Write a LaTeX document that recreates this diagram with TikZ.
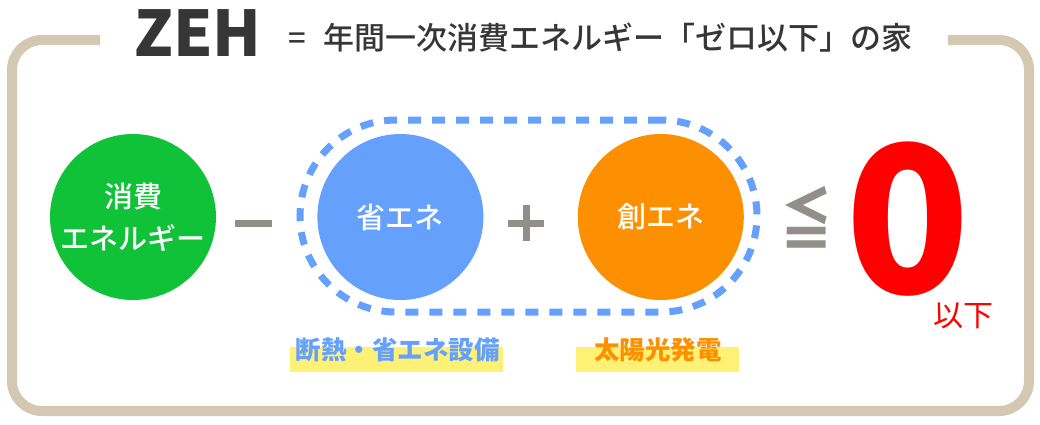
\documentclass[tikz,border=0pt]{standalone}
\usepackage{fontspec}
\setmainfont{Noto Sans CJK JP}
\newfontfamily\jpmedium{Noto Sans CJK JP Medium}
\usetikzlibrary{positioning}

\definecolor{framebeige}{HTML}{D3C8B1}
\definecolor{titlegray}{HTML}{363636}
\definecolor{opgray}{HTML}{928E89}
\definecolor{consumegreen}{HTML}{10C237}
\definecolor{saveblue}{HTML}{64A0FC}
\definecolor{createorange}{HTML}{FD9000}
\definecolor{zerored}{HTML}{FF0000}
\definecolor{markyellow}{HTML}{FFF176}

\begin{document}
\begin{tikzpicture}[x=1pt, y=-1pt,
    circ/.style={circle, minimum size=166pt, inner sep=0pt, text=white, align=center, font=\jpmedium\fontsize{29}{42}\selectfont},
    opbar/.style={fill=opgray, inner sep=0pt},
    marker/.style={fill=markyellow, inner sep=0pt, minimum height=25pt},
    caption/.style={inner sep=0pt, font=\fontsize{25.5}{30}\selectfont\bfseries}]
        \useasboundingbox (0,0) rectangle (1040,424);

        % Draw the frame
        \draw [framebeige, line width=10pt, rounded corners=30pt] (100,40) -- (12,40) -- (12,411) -- (1029,411) -- (1029,40) -- (948,40);

        % Title
        \node (zeh)      [inner sep=0pt, text=titlegray, font=\fontsize{63}{63}\selectfont\bfseries] at (198,33) {ZEH};
        \node (subtitle) [inner sep=0pt, anchor=west, text=titlegray, font=\jpmedium\fontsize{31}{31}\selectfont] at (288,38) {=\hspace{18pt}年間一次消費エネルギー「ゼロ以下」の家};

        % Draw the circles
        \node (consume) [circ, fill=consumegreen] at (133,217) {消費\\エネルギー};
        \node (save)    [circ, fill=saveblue, right=101pt of consume] {省エネ};
        \node (create)  [circ, fill=createorange, right=94pt of save] {創エネ};

        % Dashed group round the two
        \node (group) [draw=saveblue, line width=7pt, dash pattern=on 13pt off 11pt, rounded corners=96pt, minimum width=457pt, minimum height=192pt, inner sep=0pt] at (528.5,216) {};

        % Operators
        \node (minus) [opbar, minimum width=37pt, minimum height=7pt] at (253,223) {};
        \node (plush) [opbar, minimum width=36pt, minimum height=7pt] at (526,223) {};
        \node (plusv) [opbar, minimum width=7pt, minimum height=36pt] at (526,223) {};
        \node (leq)   [inner sep=0pt, text=opgray, xscale=0.77, font=\fontsize{68}{68}\selectfont\bfseries] at (807,217) {≦};

        % Result
        \node (zero)  [inner sep=0pt, text depth=0pt, text=zerored, font=\fontsize{205}{205}\selectfont\bfseries] at (908,218) {0};
        \node (below) [inner sep=0pt, text=zerored, font=\fontsize{30}{30}\selectfont] at (963,316) {以下};

        % Captions
        \node (savemark)    [marker, minimum width=213pt] at (396.5,359.5) {};
        \node (savelabel)   [caption, text=saveblue] at (397.5,349.5) {断熱・省エネ設備};
        \node (createmark)  [marker, minimum width=163pt] at (657.5,359.5) {};
        \node (createlabel) [caption, text=createorange] at (658,349.5) {太陽光発電};
    \end{tikzpicture}
\end{document}
